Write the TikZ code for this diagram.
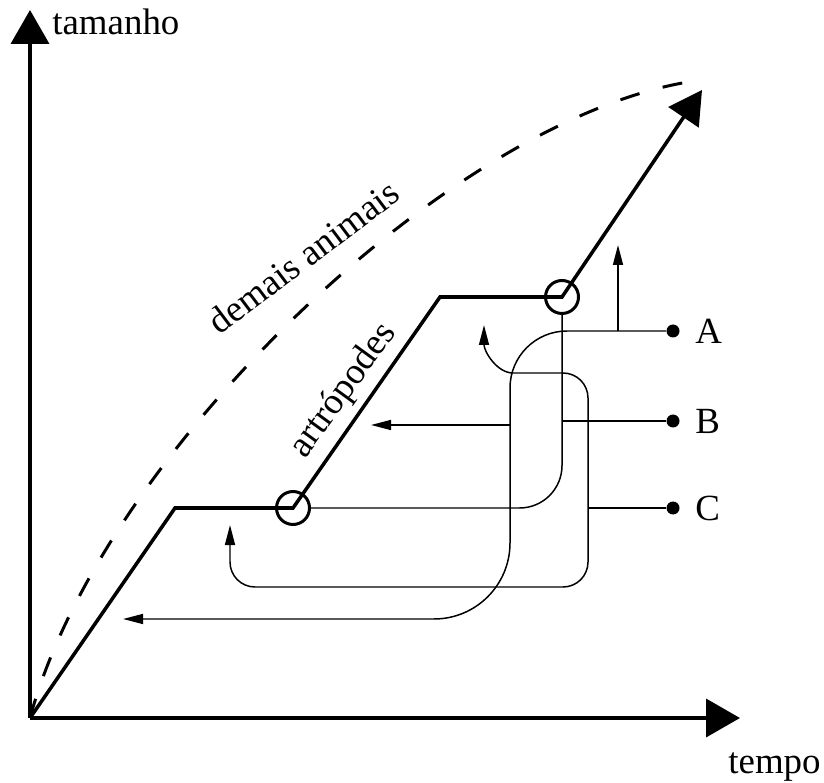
\documentclass[tikz,border=0pt]{standalone}
\usepackage{fontspec}
\setmainfont{Liberation Serif}
\usetikzlibrary{arrows.meta}

\begin{document}
\begin{tikzpicture}[
    axis/.style={line width=2.2pt, -{Triangle[length=0.68cm, width=0.76cm]}},
    growth/.style={line width=2pt},
    others/.style={line width=1.7pt, dash pattern=on 0.4cm off 0.48cm},
    molt/.style={circle, draw, line width=1.7pt, minimum size=0.66cm},
    thinline/.style={line width=0.85pt},
    thinarrow/.style={thinline, -{Triangle[length=0.4cm, width=0.2cm]}},
    dot/.style={circle, fill, minimum size=0.26cm},
    every node/.style={inner sep=0pt, font=\fontsize{21}{25}\selectfont}
]
\useasboundingbox (-0.6,-1.28) rectangle (15.88,14.36);

% axes
\coordinate (O) at (0,0);
\coordinate (ytip) at (0,14.16);
\coordinate (xtip) at (14.2,0);
\draw[axis] (O) -- (ytip);
\draw[axis] (O) -- (xtip);
\node[anchor=base west] (tamanho) at (0.44,13.66) {tamanho};
\node[anchor=base west] (tempo) at (13.96,-1.1) {tempo};

% curves
\draw[others] (O) .. controls (1.4,5.2) and (8.3,11.9) .. (13.16,12.72);
\node[rotate=37, anchor=base] (demais) at (5.62,9.02) {demais animais};

\coordinate (k1) at (2.9,4.2);
\node[molt] (m1) at (5.26,4.2) {};
\coordinate (k2) at (8.2,8.42);
\node[molt] (m2) at (10.64,8.42) {};
\coordinate (top) at (13.44,12.56);
\draw[growth, -{Triangle[length=0.66cm, width=0.72cm]}]
    (O) -- (k1) -- (m1.center) -- (k2) -- (m2.center) -- (top);
\node[rotate=54, anchor=base] (artro) at (6.42,6.44) {artrópodes};

% legend
\node[dot] (A) at (12.86,7.74) {};
\node[dot] (B) at (12.86,5.94) {};
\node[dot] (C) at (12.86,4.2) {};
\node[anchor=west] (labA) at (13.3,7.74) {A};
\node[anchor=west] (labB) at (13.3,5.94) {B};
\node[anchor=west] (labC) at (13.3,4.2) {C};

% A
\coordinate (tipA) at (1.86,1.98);
\draw[thinarrow] (A) -- (10.74,7.74) arc[start angle=90, end angle=180, radius=1.14]
    -- (9.6,3.5) arc[start angle=0, end angle=-90, radius=1.52] -- (tipA);
\coordinate (jA1) at (11.76,7.74);
\coordinate (tipA1) at (11.76,9.46);
\draw[thinarrow] (jA1) -- (tipA1);
\coordinate (jA2) at (9.6,5.86);
\coordinate (tipA2) at (6.82,5.86);
\draw[thinarrow] (jA2) -- (tipA2);

% B
\coordinate (jB) at (10.64,5.94);
\draw[thinline] (B) -- (jB);
\draw[thinline, rounded corners=0.85cm] (m2.south) |- (m1.east);

% C
\coordinate (jC) at (11.16,4.2);
\draw[thinline] (C) -- (jC);
\coordinate (jC2) at (9.66,6.9);
\coordinate (tipC1) at (9.08,7.86);
\coordinate (tipC2) at (4.0,3.86);
\draw[thinarrow] (jC2) arc[start angle=270, end angle=180, x radius=0.58, y radius=0.96];
\draw[thinarrow, rounded corners=0.5cm] (jC2) -| (11.16,2.62) -| (tipC2);
\end{tikzpicture}
\end{document}
